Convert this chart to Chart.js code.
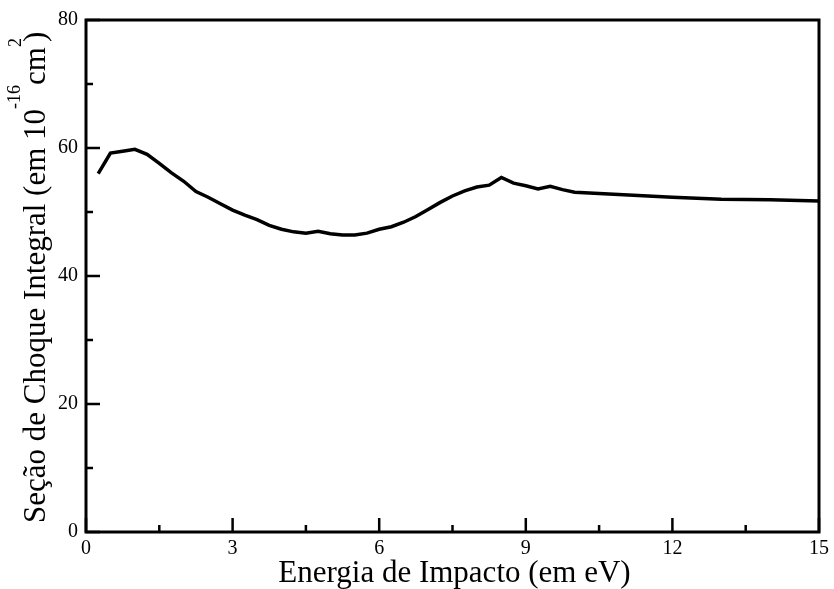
<!DOCTYPE html>
<html>
<head>
<meta charset="utf-8">
<title>Seção de Choque Integral</title>
<script src="https://cdn.jsdelivr.net/npm/chart.js@4.4.0/dist/chart.umd.min.js"></script>
<style>
  html, body { margin: 0; padding: 0; background: #fff; }
  #wrap { width: 834px; height: 589px; }
</style>
</head>
<body>
<div id="wrap"><canvas id="grafico" width="834" height="589"></canvas></div>
<script>
// Energia de impacto (eV) e seção de choque integral (10^-16 cm^2)
const energia = [0.25, 0.5, 0.75, 1.0, 1.25, 1.5, 1.75, 2.0, 2.25, 2.5, 2.75, 3.0,
  3.25, 3.5, 3.75, 4.0, 4.25, 4.5, 4.75, 5.0, 5.25, 5.5, 5.75, 6.0, 6.25, 6.5,
  6.75, 7.0, 7.25, 7.5, 7.75, 8.0, 8.25, 8.5, 8.75, 9.0, 9.25, 9.5, 9.75, 10.0,
  11, 12, 13, 14, 15];
const secao = [56.0, 59.2, 59.5, 59.8, 59.0, 57.6, 56.1, 54.8, 53.2, 52.3, 51.3, 50.3,
  49.5, 48.8, 47.9, 47.3, 46.9, 46.7, 47.0, 46.6, 46.4, 46.4, 46.7, 47.3, 47.7, 48.4,
  49.3, 50.4, 51.5, 52.5, 53.3, 53.9, 54.2, 55.4, 54.5, 54.1, 53.6, 54.0, 53.5, 53.1,
  52.7, 52.3, 52.0, 51.9, 51.7];

// marcas dos eixos
const xMajor = [0, 3, 6, 9, 12, 15];
const xMinor = [1.5, 4.5, 7.5, 10.5, 13.5];
const yMajor = [0, 20, 40, 60, 80];
const yMinor = [10, 30, 50, 70];

const serif = '"Liberation Serif", "DejaVu Serif", serif';

// moldura e marcas internas dos eixos
const moldura = {
  id: 'moldura',
  afterDraw(chart) {
    const ctx = chart.ctx;
    const a = chart.chartArea;
    const sx = chart.scales.x, sy = chart.scales.y;
    ctx.save();
    ctx.strokeStyle = '#000';
    ctx.lineWidth = 2.5;
    ctx.beginPath();
    xMajor.forEach(v => { const p = sx.getPixelForValue(v); ctx.moveTo(p, a.bottom); ctx.lineTo(p, a.bottom - 14); });
    xMinor.forEach(v => { const p = sx.getPixelForValue(v); ctx.moveTo(p, a.bottom); ctx.lineTo(p, a.bottom - 7); });
    yMajor.forEach(v => { const p = sy.getPixelForValue(v); ctx.moveTo(a.left, p); ctx.lineTo(a.left + 14, p); });
    yMinor.forEach(v => { const p = sy.getPixelForValue(v); ctx.moveTo(a.left, p); ctx.lineTo(a.left + 7, p); });
    ctx.stroke();
    ctx.lineWidth = 3;
    ctx.strokeRect(a.left, a.top, a.right - a.left, a.bottom - a.top);

    // título do eixo x
    ctx.fillStyle = '#000';
    ctx.font = '31px ' + serif;
    ctx.textAlign = 'center';
    ctx.textBaseline = 'alphabetic';
    ctx.fillText('Energia de Impacto (em eV)', (a.left + a.right) / 2 + 2, 582);

    // título do eixo y, com expoentes
    ctx.translate(45, 523);
    ctx.rotate(-Math.PI / 2);
    ctx.textAlign = 'left';
    const partes = [
      ['Seção de Choque Integral (em 10', 31, 0],
      ['-16', 18, -25],
      ['cm', 31, 0],
      ['2', 18, -24],
      [')', 31, 0]
    ];
    let x = 0;
    partes.forEach(([txt, tam, dy]) => {
      ctx.font = tam + 'px ' + serif;
      ctx.fillText(txt, x, dy);
      x += ctx.measureText(txt).width;
      if (txt === '2') x -= 4;
    });
    ctx.restore();
  }
};

new Chart(document.getElementById('grafico'), {
  type: 'scatter',
  data: {
    datasets: [{
      data: energia.map((e, i) => ({ x: e, y: secao[i] })),
      showLine: true,
      borderColor: '#000',
      borderWidth: 3.5,
      pointRadius: 0,
      tension: 0,
      fill: false
    }]
  },
  options: {
    responsive: false,
    animation: false,
    layout: { padding: { top: 19, right: 14, left: 0, bottom: 0 } },
    plugins: { legend: { display: false }, tooltip: { enabled: false } },
    scales: {
      x: {
        type: 'linear', min: 0, max: 15,
        grid: { display: false, drawTicks: false },
        border: { display: false },
        ticks: { stepSize: 3, color: '#000', padding: 5, maxRotation: 0,
          font: { family: serif, size: 20 } },
        afterFit(scale) { scale.height = 57; }
      },
      y: {
        min: 0, max: 80,
        grid: { display: false, drawTicks: false },
        border: { display: false },
        ticks: { stepSize: 20, color: '#000', padding: 8,
          font: { family: serif, size: 20 } },
        afterFit(scale) { scale.width = 86; }
      }
    }
  },
  plugins: [moldura]
});
</script>
</body>
</html>
